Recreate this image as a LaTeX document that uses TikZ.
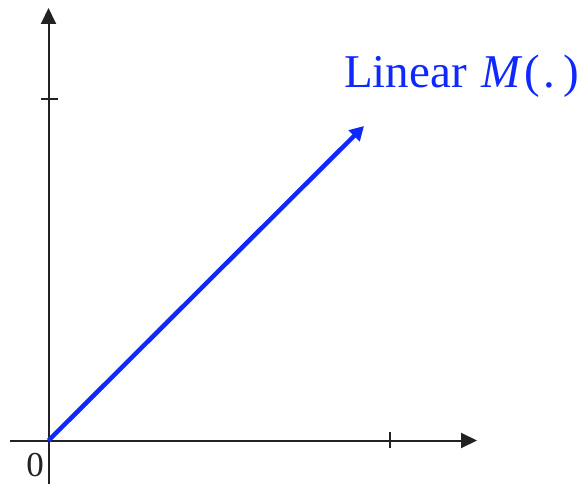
\documentclass[tikz,border=0pt]{standalone}
\usepackage{fontspec}
\setmainfont{Liberation Serif}
\usetikzlibrary{arrows.meta}
\definecolor{axisgray}{RGB}{34,34,34}
\definecolor{vecblue}{RGB}{15,40,255}
\tikzset{
  axis/.style={draw=axisgray, line width=2pt, -{Triangle[length=16pt,width=15pt]}},
  tickmark/.style={draw=axisgray, line width=2pt},
  vec/.style={draw=vecblue, line width=4.5pt, -{Triangle[length=14pt,width=15pt]}},
  lbl/.style={text=vecblue, font=\fontsize{47}{50}\selectfont, inner sep=0pt},
  zerolbl/.style={text=axisgray, font=\fontsize{35}{40}\selectfont, inner sep=0pt}
}
\begin{document}
\begin{tikzpicture}[x=1pt,y=-1pt]
\useasboundingbox (0,0) rectangle (586,484);
\coordinate (O) at (48.5,440.5);
\coordinate (xs) at (10,440.5);
\coordinate (xe) at (477,440.5);
\coordinate (ys) at (48.5,484);
\coordinate (ye) at (48.5,8);
\coordinate (xt1) at (390,432);
\coordinate (xt2) at (390,448);
\coordinate (yt1) at (41,99.5);
\coordinate (yt2) at (58,99.5);
\coordinate (tip) at (364,126);
\draw[axis] (xs) -- (xe);
\draw[axis] (ys) -- (ye);
\draw[tickmark] (xt1) -- (xt2);
\draw[tickmark] (yt1) -- (yt2);
\draw[vec] (O) -- (tip);
\node[zerolbl, anchor=base] (zero) at (35,476) {0};
\node[lbl, anchor=base west] (label) at (344,88) {Linear\kern3pt\ {\itshape M}\kern4pt(\kern3pt.\kern8pt)};
\end{tikzpicture}
\end{document}
